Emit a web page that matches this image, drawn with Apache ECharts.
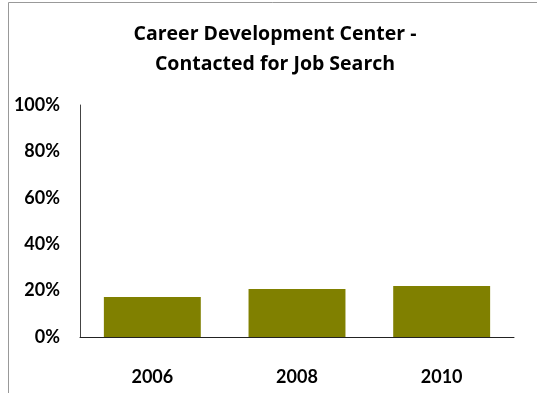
<!DOCTYPE html>
<html><head><meta charset="utf-8">
<script src="https://cdn.jsdelivr.net/npm/echarts@6/dist/echarts.min.js"></script>
<style>html,body{margin:0;padding:0;background:#fff}#c{width:537px;height:393px}</style>
</head><body><div id="c"></div>
<script>
const categories = ['2006', '2008', '2010'];
const values = [17.2, 20.7, 22.0];
const yTicks = [0, 20, 40, 60, 80, 100];
const titleLines = ['Career Development Center -', 'Contacted for Job Search'];

const chart = echarts.init(document.getElementById('c'), null, {renderer: 'canvas'});
const font = 'Lato';
chart.setOption({
  animation: false,
  backgroundColor: '#fff',
  title: {
    text: titleLines.join('\n'),
    left: 270, top: 15, textAlign: 'center', padding: 5,
    textStyle: {fontFamily: '"Open Sans"', fontWeight: 'bold', fontSize: 19.5, lineHeight: 29.5, color: '#000'}
  },
  graphic: [{
    type: 'polyline', silent: true,
    shape: {points: [[8.5, 393], [8.5, 2.5], [537, 2.5]]},
    style: {stroke: '#999', lineWidth: 1, fill: null}
  }],
  grid: {left: 80, right: 23, top: 105, bottom: 56, containLabel: false},
  xAxis: {
    type: 'category', data: categories,
    axisLine: {lineStyle: {color: '#222', width: 1}},
    axisTick: {show: false},
    axisLabel: {fontFamily: font, fontWeight: 'bold', fontSize: 18, color: '#000', margin: 31}
  },
  yAxis: {
    type: 'value', min: yTicks[0], max: yTicks[yTicks.length - 1], interval: yTicks[1] - yTicks[0],
    axisLine: {show: true, lineStyle: {color: '#444', width: 1}},
    axisTick: {show: false},
    splitLine: {show: false},
    axisLabel: {fontFamily: font, fontWeight: 'bold', fontSize: 18, color: '#000', margin: 20,
      formatter: v => v + '%'}
  },
  series: [{
    type: 'bar', data: values, barWidth: '67%',
    itemStyle: {color: '#808000'}
  }]
});
</script></body></html>
